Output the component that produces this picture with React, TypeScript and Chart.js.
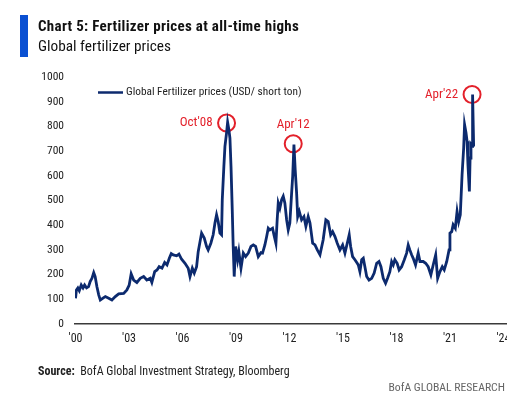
import { useEffect, useRef } from "react";
import { Chart, registerables } from "chart.js";

Chart.register(...registerables);

const FONT = "'Roboto Condensed', 'DejaVu Sans Condensed', sans-serif";

const seriesName = "Global Fertilizer prices (USD/ short ton)";

const years = [
  2000.0, 2000.05, 2000.13, 2000.21, 2000.32, 2000.42, 2000.51, 2000.62, 2000.73, 2000.82,
  2000.92, 2001.02, 2001.1, 2001.2, 2001.3, 2001.39, 2001.52, 2001.67, 2001.86, 2002.04,
  2002.23, 2002.42, 2002.7, 2002.88, 2003.01, 2003.12, 2003.26, 2003.44, 2003.63, 2003.82,
  2004.0, 2004.19, 2004.28, 2004.44, 2004.57, 2004.69, 2004.85, 2005.0, 2005.13, 2005.26,
  2005.37, 2005.48, 2005.67, 2005.8, 2005.95, 2006.14, 2006.32, 2006.42, 2006.55, 2006.66,
  2006.79, 2006.88, 2007.07, 2007.22, 2007.35, 2007.44, 2007.59, 2007.72, 2007.82, 2007.91,
  2008.0, 2008.1, 2008.19, 2008.23, 2008.32, 2008.38, 2008.47, 2008.53, 2008.6, 2008.66,
  2008.72, 2008.79, 2008.84, 2008.9, 2008.98, 2009.09, 2009.16, 2009.28, 2009.41, 2009.54,
  2009.69, 2009.84, 2009.97, 2010.1, 2010.25, 2010.4, 2010.49, 2010.62, 2010.72, 2010.81,
  2010.9, 2011.05, 2011.13, 2011.24, 2011.31, 2011.37, 2011.46, 2011.56, 2011.65, 2011.74,
  2011.84, 2011.93, 2012.02, 2012.12, 2012.18, 2012.25, 2012.32, 2012.4, 2012.46, 2012.55,
  2012.68, 2012.81, 2012.92, 2013.05, 2013.15, 2013.3, 2013.43, 2013.56, 2013.71, 2013.89,
  2014.04, 2014.17, 2014.31, 2014.42, 2014.55, 2014.68, 2014.83, 2014.98, 2015.11, 2015.24,
  2015.35, 2015.43, 2015.54, 2015.67, 2015.8, 2015.86, 2015.95, 2016.05, 2016.14, 2016.23,
  2016.33, 2016.46, 2016.61, 2016.75, 2016.89, 2017.02, 2017.13, 2017.26, 2017.39, 2017.5,
  2017.63, 2017.73, 2017.82, 2017.91, 2018.04, 2018.15, 2018.29, 2018.44, 2018.57, 2018.66,
  2018.75, 2018.85, 2018.94, 2019.07, 2019.22, 2019.32, 2019.5, 2019.64, 2019.78, 2019.93,
  2020.06, 2020.2, 2020.31, 2020.44, 2020.57, 2020.68, 2020.82, 2020.95, 2021.0, 2021.1,
  2021.18, 2021.3, 2021.4, 2021.49, 2021.58, 2021.68, 2021.77, 2021.82, 2021.9, 2021.96,
  2022.01, 2022.09, 2022.13, 2022.18, 2022.24, 2022.27, 2022.33,
];

const prices = [
  104, 138, 146, 135, 158, 146, 158, 146, 151, 172,
  185, 208, 192, 151, 118, 97, 104, 111, 104, 97,
  111, 122, 124, 138, 158, 203, 178, 168, 185, 192,
  178, 185, 168, 212, 219, 232, 226, 249, 239, 266,
  285, 280, 276, 283, 262, 246, 226, 192, 226, 206,
  232, 293, 368, 348, 314, 300, 327, 361, 409, 442,
  415, 368, 361, 503, 638, 719, 774, 817, 787, 753,
  638, 462, 320, 192, 314, 260, 293, 226, 287, 273,
  287, 314, 320, 314, 273, 289, 287, 320, 354, 388,
  381, 388, 361, 327, 422, 490, 469, 503, 517, 490,
  422, 381, 409, 530, 598, 726, 625, 530, 435, 456,
  422, 435, 395, 435, 409, 327, 320, 300, 280, 341,
  422, 415, 361, 374, 354, 327, 300, 320, 287, 327,
  361, 314, 273, 260, 246, 239, 212, 260, 266, 232,
  192, 178, 185, 206, 246, 253, 232, 185, 165, 185,
  212, 253, 239, 260, 246, 219, 232, 260, 287, 320,
  300, 280, 266, 239, 287, 253, 253, 246, 232, 199,
  239, 280, 185, 212, 232, 219, 253, 300, 368, 374,
  402, 388, 456, 415, 442, 604, 713, 807, 774, 740,
  645, 537, 672, 726, 719, 929, 719,
];

const peakLabels = ["Oct'08", "Apr'12", "Apr'22"];
const peakYears = [2008.47, 2012.21, 2022.24];
const peakValues = [814, 730, 929];

const xTickYears = [2000, 2003, 2006, 2009, 2012, 2015, 2018, 2021, 2024];
const yTickValues = [0, 100, 200, 300, 400, 500, 600, 700, 800, 900, 1000];

const NAVY = "#0c2a6e";
const RED = "#e3202a";

const legendPlugin = {
  id: "insideLegend",
  afterDraw(chart: any) {
    const { ctx, chartArea } = chart;
    const x0 = chartArea.left + 23;
    const y0 = chartArea.top + 15.5;
    ctx.save();
    ctx.strokeStyle = NAVY;
    ctx.lineWidth = 2.5;
    ctx.beginPath();
    ctx.moveTo(x0, y0);
    ctx.lineTo(x0 + 25, y0);
    ctx.stroke();
    ctx.fillStyle = "#222";
    ctx.font = `11.3px ${FONT}`;
    ctx.textBaseline = "middle";
    ctx.textAlign = "left";
    ctx.fillText(seriesName, x0 + 28, y0);
    ctx.restore();
  },
};

const peakLabelPlugin = {
  id: "peakLabels",
  afterDatasetsDraw(chart: any) {
    const { ctx } = chart;
    const meta = chart.getDatasetMeta(1);
    ctx.save();
    ctx.fillStyle = RED;
    ctx.font = `13px ${FONT}`;
    ctx.textBaseline = "middle";
    meta.data.forEach((pt: any, i: number) => {
      if (i === 1) {
        ctx.textAlign = "center";
        ctx.fillText(peakLabels[i], pt.x, pt.y - 19);
      } else {
        ctx.textAlign = "right";
        ctx.fillText(peakLabels[i], pt.x - 14, pt.y);
      }
    });
    ctx.restore();
  },
};

export default function App() {
  const ref = useRef<HTMLCanvasElement | null>(null);

  useEffect(() => {
    if (!ref.current) return;
    const chart = new Chart(ref.current, {
      type: "line",
      data: {
        datasets: [
          {
            label: seriesName,
            data: years.map((x, i) => ({ x, y: prices[i] })),
            borderColor: NAVY,
            borderWidth: 2.8,
            pointRadius: 0,
            tension: 0,
            fill: false,
          },
          {
            label: "peaks",
            data: peakYears.map((x, i) => ({ x, y: peakValues[i] })),
            showLine: false,
            pointRadius: 8.5,
            pointBorderWidth: 2,
            pointBorderColor: RED,
            pointBackgroundColor: "rgba(0,0,0,0)",
            borderColor: RED,
            backgroundColor: "rgba(0,0,0,0)",
          },
        ],
      },
      options: {
        animation: false,
        responsive: false,
        devicePixelRatio: 1,
        layout: { autoPadding: false, padding: { top: 77, left: 0, right: 0, bottom: 0 } },
        plugins: {
          legend: { display: false },
          tooltip: { enabled: false },
        },
        scales: {
          x: {
            type: "linear",
            min: 1999.97,
            max: 2024.2,
            grid: { display: false, drawTicks: false },
            border: { display: true, color: "#3a3a3a", width: 1.5 },
            afterBuildTicks: (scale: any) => {
              scale.ticks = xTickYears.map((v) => ({ value: v }));
            },
            afterFit: (scale: any) => {
              scale.height = 73;
              scale.paddingLeft = 0;
              scale.paddingRight = 0;
            },
            ticks: {
              autoSkip: false,
              maxRotation: 0,
              padding: 8,
              color: "#222",
              font: { family: FONT, size: 12 },
              callback: (v: any) => "'" + String(Math.round(v) % 100).padStart(2, "0"),
            },
          },
          y: {
            min: 0,
            max: 1000,
            grid: { display: false, drawTicks: false },
            border: { display: false },
            afterBuildTicks: (scale: any) => {
              scale.ticks = yTickValues.map((v) => ({ value: v }));
            },
            afterFit: (scale: any) => {
              scale.width = 75;
              scale.paddingTop = 0;
              scale.paddingBottom = 0;
            },
            ticks: {
              padding: 11,
              color: "#222",
              font: { family: FONT, size: 11.5 },
              callback: (v: any) => String(v),
            },
          },
        },
      },
      plugins: [legendPlugin, peakLabelPlugin],
    });
    return () => chart.destroy();
  }, []);

  return (
    <div
      style={{
        position: "fixed",
        left: 0,
        top: 0,
        width: 525,
        height: 397,
        background: "#fff",
        fontFamily: FONT,
        overflow: "hidden",
      }}
    >
      <canvas
        ref={ref}
        width={507}
        height={397}
        style={{ position: "absolute", left: 0, top: 0, width: 507, height: 397 }}
      />
      <div style={{ position: "absolute", left: 20, top: 15, width: 8, height: 42, background: "#0a50d2" }} />
      <div
        style={{
          position: "absolute",
          left: 38,
          top: 18.5,
          fontSize: 15,
          lineHeight: "15px",
          letterSpacing: "0.3px",
          fontWeight: 700,
          color: "#111",
          whiteSpace: "nowrap",
        }}
      >
        Chart 5: Fertilizer prices at all-time highs
      </div>
      <div
        style={{
          position: "absolute",
          left: 38,
          top: 38.5,
          fontSize: 15.3,
          lineHeight: "15.3px",
          color: "#111",
          whiteSpace: "nowrap",
        }}
      >
        Global fertilizer prices
      </div>
      <div
        style={{
          position: "absolute",
          left: 38,
          top: 365,
          fontSize: 12,
          lineHeight: "12px",
          color: "#222",
          whiteSpace: "nowrap",
        }}
      >
        <b>Source:</b>&nbsp;&nbsp;BofA Global Investment Strategy, Bloomberg
      </div>
      <div
        style={{
          position: "absolute",
          right: 20,
          top: 381,
          fontSize: 11.7,
          lineHeight: "12px",
          color: "#666",
          whiteSpace: "nowrap",
        }}
      >
        BofA GLOBAL RESEARCH
      </div>
    </div>
  );
}
